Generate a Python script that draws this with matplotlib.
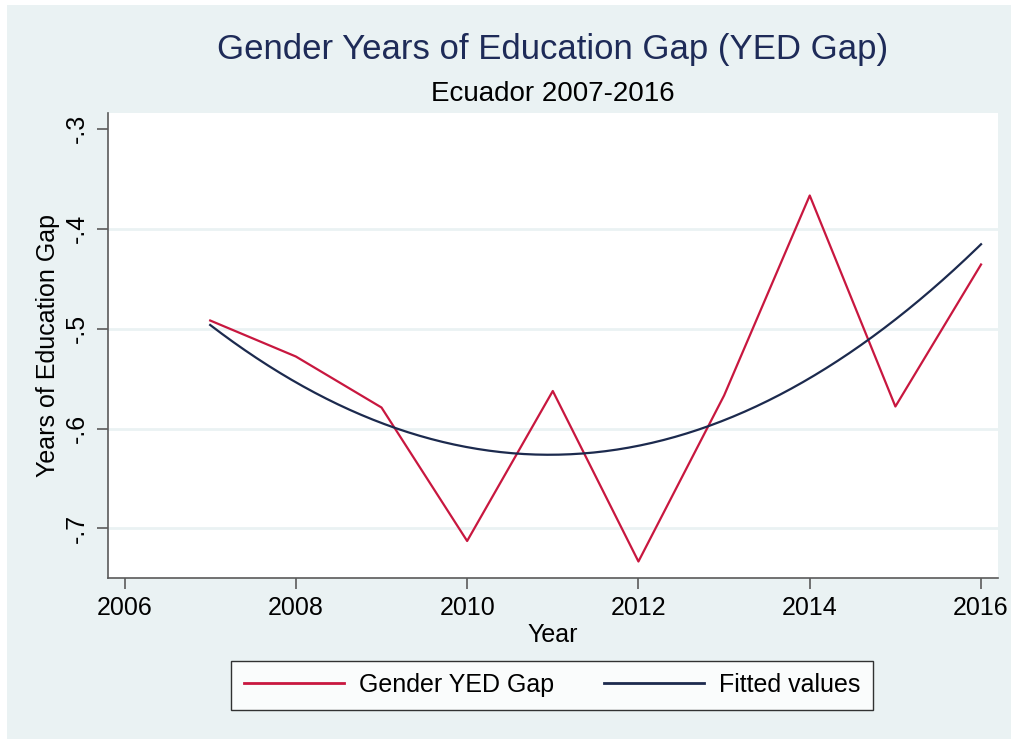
import numpy as np
import matplotlib
matplotlib.use("Agg")
import matplotlib.pyplot as plt
from matplotlib.patches import Rectangle

plt.rcParams["font.family"] = ["Liberation Sans", "DejaVu Sans"]

# data
years = [2007, 2008, 2009, 2010, 2011, 2012, 2013, 2014, 2015, 2016]
yed_gap = [-0.492, -0.528, -0.579, -0.7125, -0.5625, -0.733, -0.567, -0.367, -0.578, -0.436]

x_ticks = [2006, 2008, 2010, 2012, 2014, 2016]
y_ticks = [-0.3, -0.4, -0.5, -0.6, -0.7]
y_tick_labels = ["-.3", "-.4", "-.5", "-.6", "-.7"]

# quadratic fit (like Stata's qfit)
coef = np.polyfit(years, yed_gap, 2)
fit_x = np.linspace(min(years), max(years), 200)
fit_y = np.polyval(coef, fit_x)

bg = "#EAF2F3"
red = "#C8173F"
navy = "#1C2A4E"
axis_gray = "#5A5A5A"

W, H = 1011, 740
fig = plt.figure(figsize=(W / 100, H / 100), dpi=100)
fig.patch.set_facecolor("white")
fig.add_artist(Rectangle((7 / W, 1 / H), 1 - 7 / W, 1 - 6 / H, transform=fig.transFigure,
                         facecolor=bg, edgecolor="none", zorder=0))

ax = fig.add_axes([108 / W, 1 - 578 / H, (998 - 108) / W, (578 - 113) / H])
ax.set_facecolor("white")

for yv in y_ticks[1:]:
    ax.axhline(yv, color=bg, lw=2, zorder=1)

ax.plot(years, yed_gap, color=red, lw=1.6, label="Gender YED Gap", zorder=3)
ax.plot(fit_x, fit_y, color=navy, lw=1.6, label="Fitted values", zorder=3)

ax.set_xlim(2005.807, 2016.198)
ax.set_ylim(-0.7495, -0.2845)
ax.set_xticks(x_ticks)
ax.set_yticks(y_ticks)
ax.set_yticklabels(y_tick_labels, rotation=90, va="center")

for s in ["top", "right"]:
    ax.spines[s].set_visible(False)
for s in ["left", "bottom"]:
    ax.spines[s].set_color(axis_gray)
    ax.spines[s].set_linewidth(1.2)

ax.tick_params(axis="both", direction="out", length=8, width=1.2, color=axis_gray,
               labelsize=18, labelcolor="black")
ax.tick_params(axis="x", pad=5)
ax.tick_params(axis="y", pad=6)

ax.set_xlabel("Year", fontsize=18, labelpad=2)
ax.set_ylabel("Years of Education Gap", fontsize=18)
ax.yaxis.set_label_coords((60 - 108) / 890, 0.5)

fig.text(553 / W, 1 - 50 / H, "Gender Years of Education Gap (YED Gap)",
         fontsize=25, color="#1E2B58", ha="center", va="center")
fig.text(553 / W, 1 - 94 / H, "Ecuador 2007-2016",
         fontsize=20, color="black", ha="center", va="center")

leg = fig.legend(loc="center", bbox_to_anchor=(552 / W, 1 - 685 / H), ncol=2,
                 fontsize=18, frameon=True, fancybox=False, handlelength=4.0,
                 handletextpad=0.6, columnspacing=2.0, borderpad=0.5)
leg.get_frame().set_edgecolor("black")
leg.get_frame().set_linewidth(1.0)
leg.get_frame().set_facecolor("white")
for line in leg.get_lines():
    line.set_linewidth(2.0)

fig.savefig("out.png", dpi=100, facecolor=fig.get_facecolor())
